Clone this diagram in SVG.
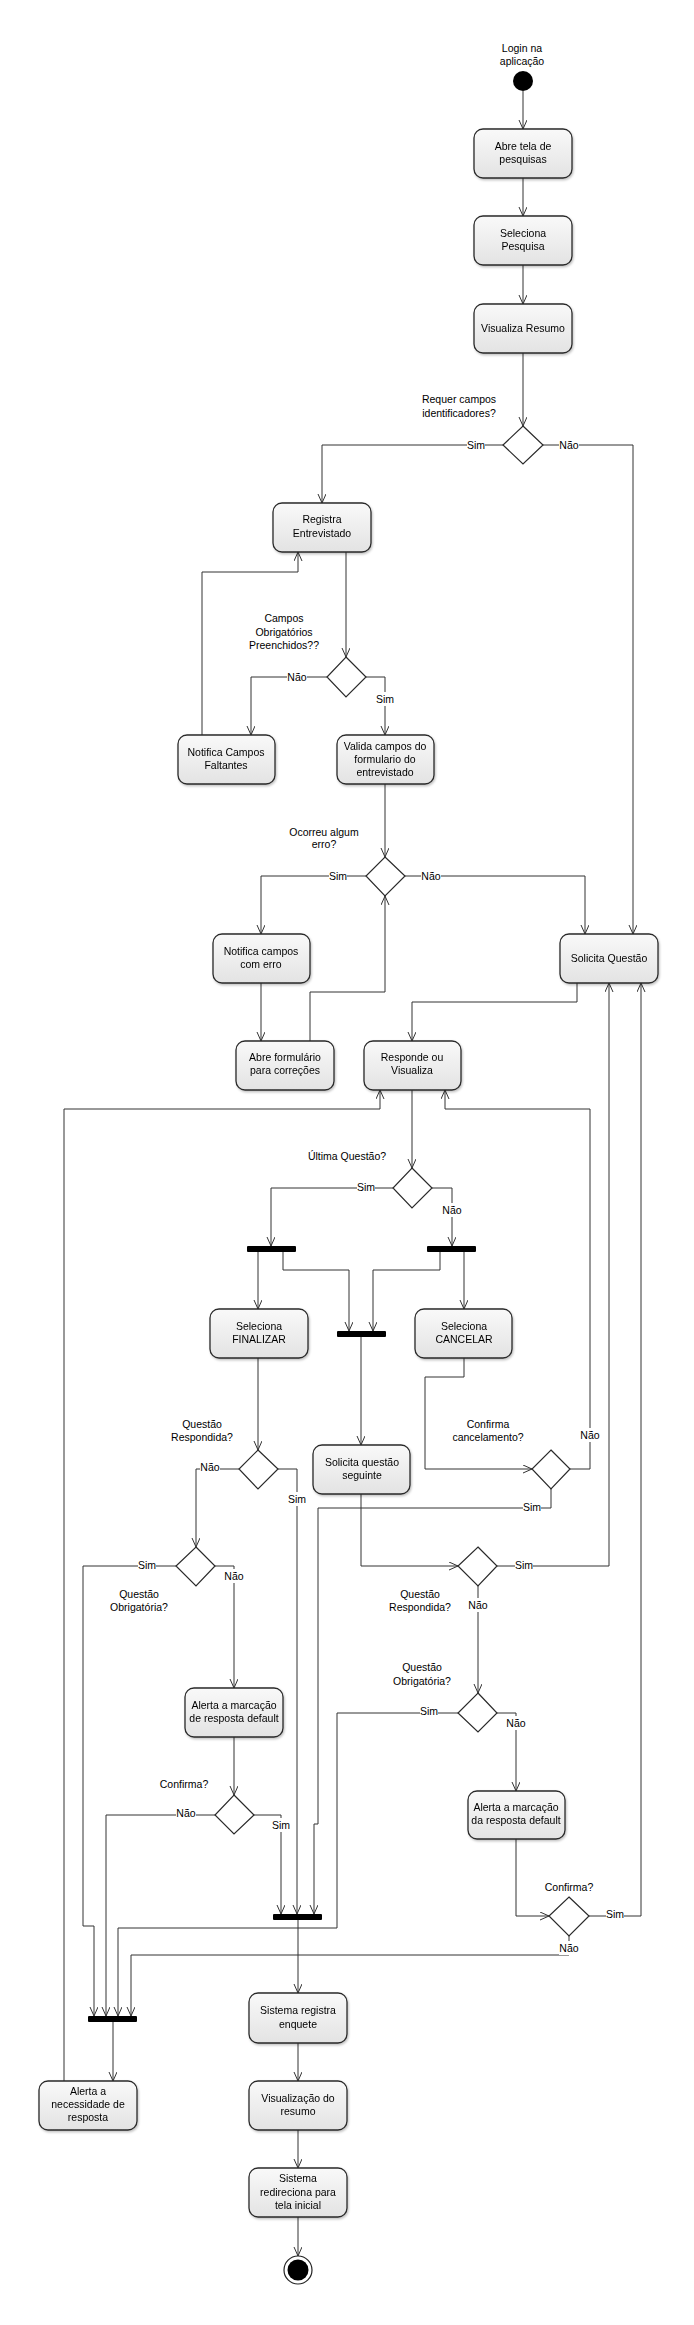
<svg xmlns="http://www.w3.org/2000/svg" width="694" height="2325" viewBox="0 0 694 2325">
<style>
text{font-family:"Liberation Sans",Arial,sans-serif;font-size:10.5px;fill:#000}
.box{fill:url(#g);stroke:#2a2a2a;stroke-width:1.3}
.dia{fill:#fff;stroke:#2a2a2a;stroke-width:1.2}
.bar{fill:#000}
.c{fill:none;stroke:#333;stroke-width:1;marker-end:url(#a)}
.lb{fill:#fff}
.t{text-anchor:middle}
</style>
<defs>
<linearGradient id="g" x1="0" y1="0" x2="0" y2="1"><stop offset="0" stop-color="#f9f9f9"/><stop offset="1" stop-color="#e3e3e3"/></linearGradient>
<marker id="a" markerUnits="userSpaceOnUse" markerWidth="10" markerHeight="10" refX="9" refY="4" orient="auto"><path d="M0,0 L9,4 L0,8" fill="none" stroke="#333" stroke-width="1"/></marker>
<filter id="sh" x="-10%" y="-10%" width="130%" height="130%"><feDropShadow dx="1" dy="1.5" stdDeviation="1" flood-color="#000" flood-opacity="0.25"/></filter>
</defs>
<g id="connectors">
<path class="c" d="M523,91 V129"/>
<path class="c" d="M523,178 V216"/>
<path class="c" d="M523,265 V304"/>
<path class="c" d="M523,353 V426"/>
<path class="c" d="M503,445 H322 V503"/>
<path class="c" d="M542,445 H633 V934"/>
<path class="c" d="M346,552 V657"/>
<path class="c" d="M327,677 H251 V735"/>
<path class="c" d="M366,677 H385 V735"/>
<path class="c" d="M202,735 V572 H298 V552"/>
<path class="c" d="M385,784 V857"/>
<path class="c" d="M366,876 H261 V934"/>
<path class="c" d="M405,876 H585 V934"/>
<path class="c" d="M261,983 V1041"/>
<path class="c" d="M310,1041 V992 H385 V896"/>
<path class="c" d="M577,983 V1002 H412 V1041"/>
<path class="c" d="M412,1090 V1168"/>
<path class="c" d="M393,1188 H271 V1246"/>
<path class="c" d="M432,1188 H452 V1246"/>
<path class="c" d="M258,1252 V1309"/>
<path class="c" d="M283,1252 V1270 H349 V1331"/>
<path class="c" d="M440,1252 V1270 H373 V1331"/>
<path class="c" d="M464,1252 V1309"/>
<path class="c" d="M361,1336 V1445"/>
<path class="c" d="M258,1358 V1450"/>
<path class="c" d="M464,1358 V1377 H425 V1469 H532"/>
<path class="c" d="M239,1469 H196 V1547"/>
<path class="c" d="M278,1469 H297 V1914"/>
<path class="c" d="M570,1469 H590 V1109 H445 V1090"/>
<path class="c" d="M551,1489 V1508 H318 V1824 H314 V1914"/>
<path class="c" d="M361,1494 V1566 H458"/>
<path class="c" d="M497,1566 H609 V983"/>
<path class="c" d="M478,1586 V1693"/>
<path class="c" d="M176,1566 H83 V1926 H94 V2016"/>
<path class="c" d="M215,1566 H234 V1688"/>
<path class="c" d="M234,1737 V1795"/>
<path class="c" d="M215,1815 H106 V2016"/>
<path class="c" d="M254,1815 H281 V1914"/>
<path class="c" d="M458,1713 H337 V1928 H118 V2016"/>
<path class="c" d="M497,1713 H516 V1791"/>
<path class="c" d="M516,1839 V1916 H549"/>
<path class="c" d="M589,1916 H641 V983"/>
<path class="c" d="M569,1936 V1955 H131 V2016"/>
<path class="c" d="M298,1919 V1993"/>
<path class="c" d="M113,2021 V2081"/>
<path class="c" d="M64,2081 V1109 H380 V1090"/>
<path class="c" d="M298,2043 V2081"/>
<path class="c" d="M298,2130 V2168"/>
<path class="c" d="M298,2217 V2256"/>
</g>
<g id="edge-labels">
<rect class="lb" x="467" y="438" width="18" height="14"/><text class="t" x="476" y="449">Sim</text>
<rect class="lb" x="559" y="438" width="20" height="14"/><text class="t" x="569" y="449">Não</text>
<rect class="lb" x="287" y="670" width="20" height="14"/><text class="t" x="297" y="681">Não</text>
<rect class="lb" x="376" y="692" width="18" height="14"/><text class="t" x="385" y="703">Sim</text>
<rect class="lb" x="329" y="869" width="18" height="14"/><text class="t" x="338" y="880">Sim</text>
<rect class="lb" x="421" y="869" width="20" height="14"/><text class="t" x="431" y="880">Não</text>
<rect class="lb" x="357" y="1180" width="18" height="14"/><text class="t" x="366" y="1191">Sim</text>
<rect class="lb" x="442" y="1203" width="20" height="14"/><text class="t" x="452" y="1214">Não</text>
<rect class="lb" x="200" y="1460" width="20" height="14"/><text class="t" x="210" y="1471">Não</text>
<rect class="lb" x="288" y="1492" width="18" height="14"/><text class="t" x="297" y="1503">Sim</text>
<rect class="lb" x="580" y="1428" width="20" height="14"/><text class="t" x="590" y="1439">Não</text>
<rect class="lb" x="523" y="1500" width="18" height="14"/><text class="t" x="532" y="1511">Sim</text>
<rect class="lb" x="138" y="1558" width="18" height="14"/><text class="t" x="147" y="1569">Sim</text>
<rect class="lb" x="224" y="1569" width="20" height="14"/><text class="t" x="234" y="1580">Não</text>
<rect class="lb" x="515" y="1558" width="18" height="14"/><text class="t" x="524" y="1569">Sim</text>
<rect class="lb" x="468" y="1598" width="20" height="14"/><text class="t" x="478" y="1609">Não</text>
<rect class="lb" x="420" y="1704" width="18" height="14"/><text class="t" x="429" y="1715">Sim</text>
<rect class="lb" x="506" y="1716" width="20" height="14"/><text class="t" x="516" y="1727">Não</text>
<rect class="lb" x="176" y="1806" width="20" height="14"/><text class="t" x="186" y="1817">Não</text>
<rect class="lb" x="272" y="1818" width="18" height="14"/><text class="t" x="281" y="1829">Sim</text>
<rect class="lb" x="606" y="1907" width="18" height="14"/><text class="t" x="615" y="1918">Sim</text>
<rect class="lb" x="559" y="1941" width="20" height="14"/><text class="t" x="569" y="1952">Não</text>
</g>
<g id="start"><text class="t" x="522" y="52">Login na</text><text class="t" x="522" y="65">aplicação</text><circle cx="523" cy="81" r="10" fill="#000"/></g>
<g id="abre-tela" filter="url(#sh)"><rect class="box" x="474" y="129" width="98" height="49" rx="9"/><text class="t" x="523" y="150">Abre tela de</text><text class="t" x="523" y="163">pesquisas</text></g>
<g id="seleciona-pesquisa" filter="url(#sh)"><rect class="box" x="474" y="216" width="98" height="49" rx="9"/><text class="t" x="523" y="237">Seleciona</text><text class="t" x="523" y="250">Pesquisa</text></g>
<g id="visualiza-resumo" filter="url(#sh)"><rect class="box" x="474" y="304" width="98" height="49" rx="9"/><text class="t" x="523" y="332">Visualiza Resumo</text></g>
<g id="d-requer"><text class="t" x="459" y="403">Requer campos</text><text class="t" x="459" y="417">identificadores?</text><path class="dia" d="M523,426 L543,445 L523,464 L503,445 Z"/></g>
<g id="registra" filter="url(#sh)"><rect class="box" x="273" y="503" width="98" height="49" rx="9"/><text class="t" x="322" y="523">Registra</text><text class="t" x="322" y="537">Entrevistado</text></g>
<g id="d-campos"><text class="t" x="284" y="622">Campos</text><text class="t" x="284" y="636">Obrigatórios</text><text class="t" x="284" y="649">Preenchidos??</text><path class="dia" d="M346,657 L366,677 L346,697 L327,677 Z"/></g>
<g id="notifica-faltantes" filter="url(#sh)"><rect class="box" x="178" y="735" width="97" height="49" rx="9"/><text class="t" x="226" y="756">Notifica Campos</text><text class="t" x="226" y="769">Faltantes</text></g>
<g id="valida" filter="url(#sh)"><rect class="box" x="337" y="735" width="97" height="49" rx="9"/><text class="t" x="385" y="750">Valida campos do</text><text class="t" x="385" y="763">formulario do</text><text class="t" x="385" y="776">entrevistado</text></g>
<g id="d-erro"><text class="t" x="324" y="836">Ocorreu algum</text><text class="t" x="324" y="848">erro?</text><path class="dia" d="M385,857 L405,876 L385,896 L366,876 Z"/></g>
<g id="notifica-erro" filter="url(#sh)"><rect class="box" x="213" y="934" width="97" height="49" rx="9"/><text class="t" x="261" y="955">Notifica campos</text><text class="t" x="261" y="968">com erro</text></g>
<g id="solicita-questao" filter="url(#sh)"><rect class="box" x="560" y="934" width="98" height="49" rx="9"/><text class="t" x="609" y="962">Solicita Questão</text></g>
<g id="abre-formulario" filter="url(#sh)"><rect class="box" x="236" y="1041" width="98" height="49" rx="9"/><text class="t" x="285" y="1061">Abre formulário</text><text class="t" x="285" y="1074">para correções</text></g>
<g id="responde" filter="url(#sh)"><rect class="box" x="364" y="1041" width="97" height="49" rx="9"/><text class="t" x="412" y="1061">Responde ou</text><text class="t" x="412" y="1074">Visualiza</text></g>
<g id="d-ultima"><text class="t" x="347" y="1160">Última Questão?</text><path class="dia" d="M412,1168 L432,1188 L412,1208 L393,1188 Z"/></g>
<g id="fork-1"><rect class="bar" x="247" y="1246" width="49" height="6" rx="1"/></g>
<g id="fork-2"><rect class="bar" x="427" y="1246" width="49" height="6" rx="1"/></g>
<g id="join-1"><rect class="bar" x="337" y="1331" width="49" height="6" rx="1"/></g>
<g id="finalizar" filter="url(#sh)"><rect class="box" x="210" y="1309" width="98" height="49" rx="9"/><text class="t" x="259" y="1330">Seleciona</text><text class="t" x="259" y="1343">FINALIZAR</text></g>
<g id="cancelar" filter="url(#sh)"><rect class="box" x="415" y="1309" width="97" height="49" rx="9"/><text class="t" x="464" y="1330">Seleciona</text><text class="t" x="464" y="1343">CANCELAR</text></g>
<g id="d-respondida-1"><text class="t" x="202" y="1428">Questão</text><text class="t" x="202" y="1441">Respondida?</text><path class="dia" d="M258,1450 L278,1469 L258,1489 L239,1469 Z"/></g>
<g id="solicita-seguinte" filter="url(#sh)"><rect class="box" x="313" y="1445" width="97" height="49" rx="9"/><text class="t" x="362" y="1466">Solicita questão</text><text class="t" x="362" y="1479">seguinte</text></g>
<g id="d-cancelamento"><text class="t" x="488" y="1428">Confirma</text><text class="t" x="488" y="1441">cancelamento?</text><path class="dia" d="M551,1450 L570,1469 L551,1489 L532,1469 Z"/></g>
<g id="d-obrigatoria-1"><text class="t" x="139" y="1598">Questão</text><text class="t" x="139" y="1611">Obrigatória?</text><path class="dia" d="M196,1547 L215,1566 L196,1586 L176,1566 Z"/></g>
<g id="d-respondida-2"><text class="t" x="420" y="1598">Questão</text><text class="t" x="420" y="1611">Respondida?</text><path class="dia" d="M478,1547 L497,1566 L478,1586 L458,1566 Z"/></g>
<g id="alerta-default-1" filter="url(#sh)"><rect class="box" x="185" y="1688" width="98" height="49" rx="9"/><text class="t" x="234" y="1709">Alerta a marcação</text><text class="t" x="234" y="1722">de resposta default</text></g>
<g id="d-obrigatoria-2"><text class="t" x="422" y="1671">Questão</text><text class="t" x="422" y="1685">Obrigatória?</text><path class="dia" d="M478,1693 L497,1713 L478,1732 L458,1713 Z"/></g>
<g id="d-confirma-1"><text class="t" x="184" y="1788">Confirma?</text><path class="dia" d="M234,1795 L254,1815 L234,1834 L215,1815 Z"/></g>
<g id="alerta-default-2" filter="url(#sh)"><rect class="box" x="468" y="1791" width="97" height="48" rx="9"/><text class="t" x="516" y="1811">Alerta a marcação</text><text class="t" x="516" y="1824">da resposta default</text></g>
<g id="d-confirma-2"><text class="t" x="569" y="1891">Confirma?</text><path class="dia" d="M569,1897 L589,1916 L569,1936 L549,1916 Z"/></g>
<g id="join-2"><rect class="bar" x="273" y="1914" width="49" height="6" rx="1"/></g>
<g id="join-3"><rect class="bar" x="88" y="2016" width="49" height="6" rx="1"/></g>
<g id="alerta-necessidade" filter="url(#sh)"><rect class="box" x="39" y="2081" width="98" height="49" rx="9"/><text class="t" x="88" y="2095">Alerta a</text><text class="t" x="88" y="2108">necessidade de</text><text class="t" x="88" y="2121">resposta</text></g>
<g id="registra-enquete" filter="url(#sh)"><rect class="box" x="249" y="1993" width="98" height="50" rx="9"/><text class="t" x="298" y="2014">Sistema registra</text><text class="t" x="298" y="2028">enquete</text></g>
<g id="visualizacao" filter="url(#sh)"><rect class="box" x="249" y="2081" width="98" height="49" rx="9"/><text class="t" x="298" y="2102">Visualização do</text><text class="t" x="298" y="2115">resumo</text></g>
<g id="redireciona" filter="url(#sh)"><rect class="box" x="249" y="2168" width="98" height="49" rx="9"/><text class="t" x="298" y="2182">Sistema</text><text class="t" x="298" y="2196">redireciona para</text><text class="t" x="298" y="2209">tela inicial</text></g>
<g id="end"><circle cx="298" cy="2270" r="14" fill="#fff" stroke="#222" stroke-width="1.2"/><circle cx="298" cy="2270" r="10.5" fill="#000"/></g>
</svg>
